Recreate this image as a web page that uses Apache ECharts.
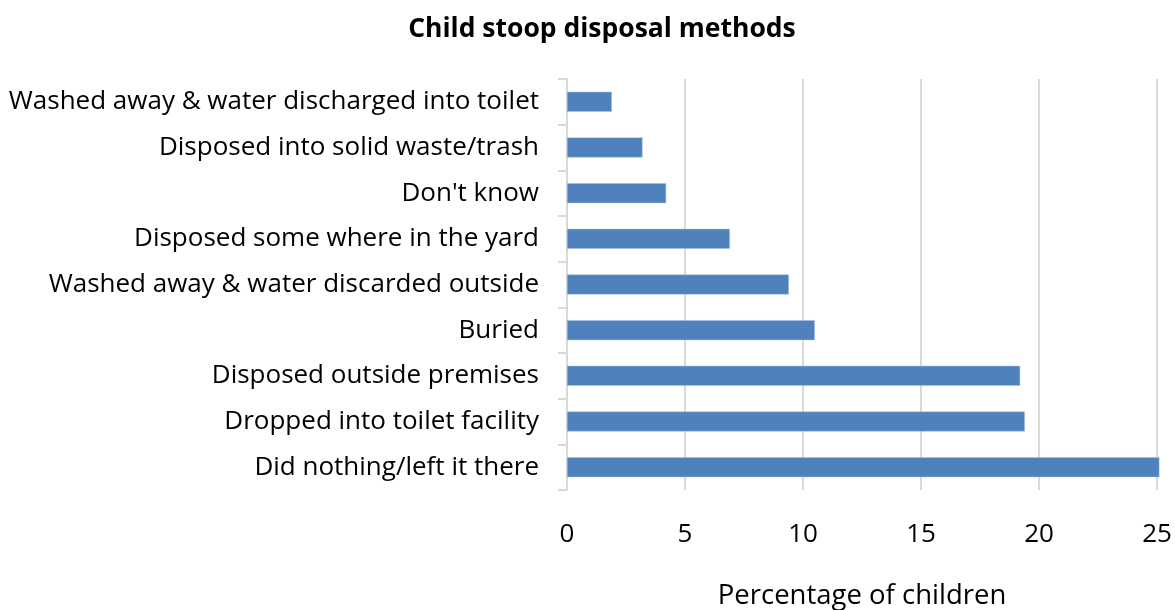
<!DOCTYPE html>
<html>
<head>
<meta charset="utf-8">
<script src="https://cdn.jsdelivr.net/npm/echarts@6/dist/echarts.min.js"></script>
<style>html,body{margin:0;padding:0;background:#fff}#c{width:1175px;height:610px}</style>
</head>
<body>
<div id="c"></div>
<script>
var categories = [
  "Washed away & water discharged into toilet",
  "Disposed into solid waste/trash",
  "Don't know",
  "Disposed some where in the yard",
  "Washed away & water discarded outside",
  "Buried",
  "Disposed outside premises",
  "Dropped into toilet facility",
  "Did nothing/left it there"
];
var values = [1.9, 3.2, 4.2, 6.9, 9.4, 10.5, 19.2, 19.4, 25.1];
var xTicks = [0, 5, 10, 15, 20, 25];

var chart = echarts.init(document.getElementById('c'), null, {renderer: 'canvas'});
var font = "'Open Sans', sans-serif";
chart.setOption({
  animation: false,
  title: {
    text: "Child stoop disposal methods",
    left: 597, top: 11, textAlign: 'center',
    textStyle: {fontFamily: font, fontWeight: 'bold', fontSize: 26.5, color: '#000'}
  },
  grid: {left: 567, right: 18, top: 79, bottom: 120, containLabel: false, outerBoundsMode: 'none'},
  xAxis: {
    type: 'value', min: xTicks[0], max: xTicks[xTicks.length - 1], interval: 5,
    name: "Percentage of children", nameLocation: 'middle', nameGap: 92,
    nameTextStyle: {fontFamily: font, fontSize: 27.5, color: '#000'},
    axisLine: {show: false}, axisTick: {show: false},
    axisLabel: {fontFamily: font, fontSize: 26, color: '#000', margin: 32},
    splitLine: {show: true, lineStyle: {color: '#d9d9d9', width: 2}}
  },
  yAxis: {
    type: 'category', data: categories, inverse: true,
    axisLine: {show: true, lineStyle: {color: '#d9d9d9', width: 2}},
    axisTick: {show: true, length: 9, lineStyle: {color: '#d9d9d9', width: 2}},
    axisLabel: {fontFamily: font, fontSize: 26, color: '#000', margin: 28}
  },
  series: [{
    type: 'bar', data: values, barWidth: 20, clip: false,
    itemStyle: {color: '#4f81bd', borderColor: '#a9c1e0', borderWidth: 0.5}
  }]
});
</script>
</body>
</html>
